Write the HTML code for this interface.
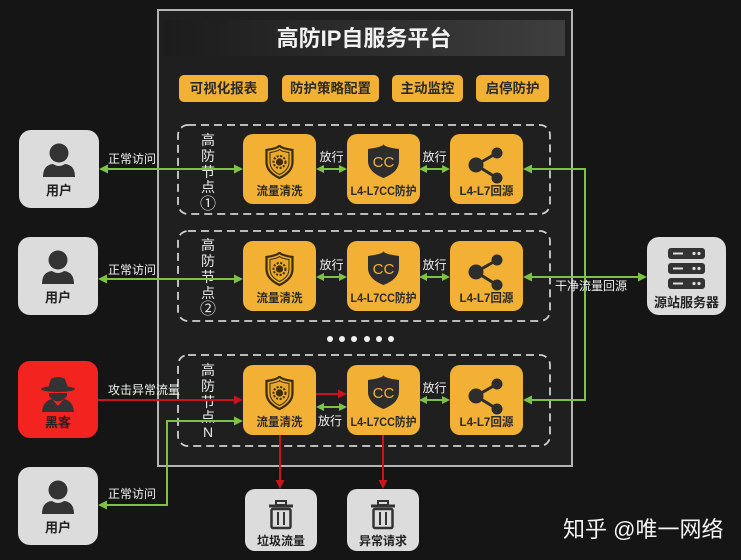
<!DOCTYPE html>
<html><head><meta charset="utf-8"><style>
html,body{margin:0;padding:0;background:#151515;}
svg{display:block;}
text{font-family:"Liberation Sans","Noto Sans CJK SC",sans-serif;}
</style></head><body>
<svg width="741" height="560" viewBox="0 0 741 560" xmlns="http://www.w3.org/2000/svg">
<defs>
<linearGradient id="tb" x1="0" x2="1" y1="0" y2="0">
<stop offset="0" stop-color="#1c1c1c"/><stop offset="1" stop-color="#3e3e3e"/>
</linearGradient>
<g id="user">
<rect x="0" y="0" width="80" height="78" rx="12" fill="#dcdcdc"/>
<circle cx="40" cy="23" r="9.5" fill="#333"/>
<path d="M24,47 Q24,35 34,34 Q40,38 46,34 Q56,35 56,47 Z" fill="#333"/>
<text x="40" y="65" text-anchor="middle" font-size="13" font-weight="bold" fill="#222">用户</text>
</g>
<g id="clean">
<rect x="0" y="0" width="73" height="70" rx="10" fill="#f2b134"/>
<path d="M23.5,16 Q36.5,14 36.5,11 Q36.5,14 49.5,16 L49.5,28 Q49.5,38 36.5,44 Q23.5,38 23.5,28 Z" fill="#e8a82a" stroke="#3a2c12" stroke-width="2.2"/>
<path d="M27,18.5 Q36.5,17 36.5,15 Q36.5,17 46,18.5 L46,28 Q46,36 36.5,40.5 Q27,36 27,28 Z" fill="none" stroke="#3a2c12" stroke-width="1"/>
<circle cx="36.5" cy="28" r="6" fill="none" stroke="#3a2c12" stroke-width="2" stroke-dasharray="2 1.6"/>
<circle cx="36.5" cy="28" r="3.6" fill="#3a2c12"/>
<text x="36.5" y="61" text-anchor="middle" font-size="12" font-weight="bold" fill="#2a2a2a" textLength="46" lengthAdjust="spacingAndGlyphs">流量清洗</text>
</g>
<g id="cc">
<rect x="0" y="0" width="73" height="70" rx="10" fill="#f2b134"/>
<path d="M21,15 Q36.5,13 36.5,10 Q36.5,13 52,15 L52,27 Q52,38 36.5,44 Q21,38 21,27 Z" fill="#2d2d2d"/>
<text x="36.5" y="33" text-anchor="middle" font-size="15" fill="#f2b134">CC</text>
<text x="36.5" y="61" text-anchor="middle" font-size="12" font-weight="bold" fill="#2a2a2a" textLength="66" lengthAdjust="spacingAndGlyphs">L4-L7CC防护</text>
</g>
<g id="src">
<rect x="0" y="0" width="73" height="70" rx="10" fill="#f2b134"/>
<line x1="26" y1="31" x2="47" y2="19" stroke="#2d2d2d" stroke-width="3"/>
<line x1="26" y1="31" x2="47" y2="44" stroke="#2d2d2d" stroke-width="3"/>
<circle cx="26" cy="31" r="7.5" fill="#2d2d2d"/>
<circle cx="47" cy="19" r="5.5" fill="#2d2d2d"/>
<circle cx="47" cy="44" r="5.5" fill="#2d2d2d"/>
<text x="36.5" y="61" text-anchor="middle" font-size="12" font-weight="bold" fill="#2a2a2a" textLength="54" lengthAdjust="spacingAndGlyphs">L4-L7回源</text>
</g>
<g id="trash">
<rect x="0" y="0" width="72" height="62" rx="10" fill="#dcdcdc"/>
<rect x="31" y="12" width="10" height="4" fill="none" stroke="#333" stroke-width="2"/>
<line x1="24" y1="17" x2="48" y2="17" stroke="#333" stroke-width="3"/>
<rect x="26.5" y="20" width="19" height="19" rx="1.5" fill="none" stroke="#333" stroke-width="2.5"/>
<line x1="33" y1="23" x2="33" y2="36" stroke="#333" stroke-width="2"/>
<line x1="39" y1="23" x2="39" y2="36" stroke="#333" stroke-width="2"/>
</g>
<g id="su">
<rect x="0" y="0" width="37" height="11" rx="3" fill="#333"/>
<line x1="5" y1="5.5" x2="15" y2="5.5" stroke="#ddd" stroke-width="2"/>
<circle cx="26" cy="5.5" r="1.6" fill="#ddd"/>
<circle cx="31" cy="5.5" r="1.6" fill="#ddd"/>
</g>
</defs>

<rect x="0" y="0" width="741" height="560" fill="#151515"/>

<!-- platform -->
<rect x="158" y="10" width="414" height="456" fill="#1f1f1f" stroke="#b4b4b4" stroke-width="2"/>
<rect x="164" y="20" width="401" height="36" fill="url(#tb)"/>
<text x="364" y="46" text-anchor="middle" font-size="22" font-weight="bold" fill="#f2f2f2">高防IP自服务平台</text>

<!-- buttons -->
<rect x="179" y="75" width="89" height="27" rx="5" fill="#f2b134"/>
<text x="223.5" y="93" text-anchor="middle" font-size="13.5" font-weight="bold" fill="#2a2a2a">可视化报表</text>
<rect x="282" y="75" width="97" height="27" rx="5" fill="#f2b134"/>
<text x="330.5" y="93" text-anchor="middle" font-size="13.5" font-weight="bold" fill="#2a2a2a">防护策略配置</text>
<rect x="392" y="75" width="71" height="27" rx="5" fill="#f2b134"/>
<text x="427.5" y="93" text-anchor="middle" font-size="13.5" font-weight="bold" fill="#2a2a2a">主动监控</text>
<rect x="476" y="75" width="73" height="27" rx="5" fill="#f2b134"/>
<text x="512.5" y="93" text-anchor="middle" font-size="13.5" font-weight="bold" fill="#2a2a2a">启停防护</text>

<!-- dashed node groups -->
<g fill="none" stroke="#d0d0d0" stroke-width="1.8" stroke-dasharray="8 5">
<rect x="178" y="125" width="372" height="89" rx="10"/>
<rect x="178" y="231" width="372" height="90" rx="10"/>
<rect x="178" y="355" width="372" height="91" rx="10"/>
</g>

<!-- vertical labels -->
<g font-size="14" fill="#e8e8e8" text-anchor="middle">
<text x="208" y="145">高</text><text x="208" y="161">防</text><text x="208" y="177">节</text><text x="208" y="192">点</text><text x="208" y="209" font-size="16">①</text>
<text x="208" y="250">高</text><text x="208" y="266">防</text><text x="208" y="282">节</text><text x="208" y="298">点</text><text x="208" y="314" font-size="16">②</text>
<text x="208" y="375">高</text><text x="208" y="391">防</text><text x="208" y="407">节</text><text x="208" y="422">点</text><text x="208" y="437">N</text>
</g>

<!-- boxes -->
<use href="#clean" x="243" y="134"/><use href="#cc" x="347" y="134"/><use href="#src" x="450" y="134"/>
<use href="#clean" x="243" y="241"/><use href="#cc" x="347" y="241"/><use href="#src" x="450" y="241"/>
<use href="#clean" x="243" y="365"/><use href="#cc" x="347" y="365"/><use href="#src" x="450" y="365"/>

<!-- dots -->
<g fill="#f0f0f0">
<circle cx="330" cy="339" r="3"/><circle cx="342" cy="339" r="3"/><circle cx="354" cy="339" r="3"/>
<circle cx="367" cy="339" r="3"/><circle cx="379" cy="339" r="3"/><circle cx="391" cy="339" r="3"/>
</g>

<!-- users -->
<use href="#user" x="19" y="130"/>
<use href="#user" x="18" y="237"/>
<use href="#user" x="18" y="467"/>

<!-- hacker -->
<rect x="18" y="361" width="80" height="77" rx="12" fill="#f3231f"/>
<path d="M48,388 L51,379 Q58,375 65,379 L68,388 Z" fill="#333"/>
<ellipse cx="58" cy="389" rx="17" ry="3" fill="#333"/>
<path d="M49,393 H67 V396 Q58,407 49,396 Z" fill="#333"/>
<path d="M42,412 Q43,401 52,399 L58,406 L64,399 Q73,401 74,412 Z" fill="#333"/>
<text x="58" y="427" text-anchor="middle" font-size="13" font-weight="bold" fill="#222">黑客</text>

<!-- server -->
<rect x="647" y="237" width="79" height="78" rx="12" fill="#dcdcdc"/>
<use href="#su" x="668" y="248"/><use href="#su" x="668" y="263"/><use href="#su" x="668" y="278"/>
<text x="686.5" y="307" text-anchor="middle" font-size="13" font-weight="bold" fill="#222">源站服务器</text>

<!-- trash -->
<use href="#trash" x="245" y="489"/>
<text x="281" y="545" text-anchor="middle" font-size="12" font-weight="bold" fill="#222">垃圾流量</text>
<use href="#trash" x="347" y="489"/>
<text x="383" y="545" text-anchor="middle" font-size="12" font-weight="bold" fill="#222">异常请求</text>

<!-- green connectors -->
<g stroke="#7cc243" stroke-width="2" fill="none">
<line x1="104" y1="169" x2="238" y2="169"/>
<line x1="321" y1="169" x2="342" y2="169"/>
<line x1="424" y1="169" x2="445" y2="169"/>
<polyline points="528,169 585,169 585,400 528,400"/>
<line x1="103" y1="279" x2="238" y2="279"/>
<line x1="321" y1="277" x2="342" y2="277"/>
<line x1="424" y1="277" x2="445" y2="277"/>
<line x1="528" y1="277" x2="642" y2="277"/>
<line x1="321" y1="407" x2="342" y2="407"/>
<line x1="424" y1="400" x2="445" y2="400"/>
<polyline points="103,505 167,505 167,421 238,421"/>
</g>
<g fill="#7cc243">
<polygon points="99,169 108,164.5 108,173.5"/><polygon points="243,169 234,164.5 234,173.5"/>
<polygon points="316,169 324,165 324,173"/><polygon points="347,169 339,165 339,173"/>
<polygon points="419,169 427,165 427,173"/><polygon points="450,169 442,165 442,173"/>
<polygon points="523,169 532,164.5 532,173.5"/><polygon points="523,400 532,395.5 532,404.5"/>
<polygon points="98,279 107,274.5 107,283.5"/><polygon points="243,279 234,274.5 234,283.5"/>
<polygon points="316,277 324,273 324,281"/><polygon points="347,277 339,273 339,281"/>
<polygon points="419,277 427,273 427,281"/><polygon points="450,277 442,273 442,281"/>
<polygon points="523,277 532,272.5 532,281.5"/><polygon points="647,277 638,272.5 638,281.5"/>
<polygon points="316,407 324,403 324,411"/><polygon points="347,407 339,403 339,411"/>
<polygon points="419,400 427,396 427,404"/><polygon points="450,400 442,396 442,404"/>
<polygon points="98,505 107,500.5 107,509.5"/><polygon points="243,421 234,416.5 234,425.5"/>
</g>

<!-- red connectors -->
<g stroke="#c8141c" stroke-width="2" fill="none">
<line x1="98" y1="400" x2="237" y2="400"/>
<line x1="316" y1="394" x2="341" y2="394"/>
<line x1="280" y1="435" x2="280" y2="482"/>
<line x1="383" y1="435" x2="383" y2="482"/>
</g>
<g fill="#c8141c">
<polygon points="243,400 234,395.5 234,404.5"/>
<polygon points="347,394 338,389.5 338,398.5"/>
<polygon points="280,489 275.5,480 284.5,480"/>
<polygon points="383,489 378.5,480 387.5,480"/>
</g>

<!-- connector labels -->
<g font-size="12" fill="#f0f0f0">
<text x="108" y="163">正常访问</text>
<text x="108" y="274">正常访问</text>
<text x="108" y="394">攻击异常流量</text>
<text x="108" y="498">正常访问</text>
<text x="555" y="290">干净流量回源</text>
<text x="331.5" y="161" text-anchor="middle">放行</text>
<text x="434.5" y="161" text-anchor="middle">放行</text>
<text x="331.5" y="269" text-anchor="middle">放行</text>
<text x="434.5" y="269" text-anchor="middle">放行</text>
<text x="330" y="425" text-anchor="middle">放行</text>
<text x="434.5" y="392" text-anchor="middle">放行</text>
</g>

<!-- watermark -->
<text x="563" y="537" font-size="22" fill="#f4f4f4">知乎 @唯一网络</text>
</svg>
</body></html>
